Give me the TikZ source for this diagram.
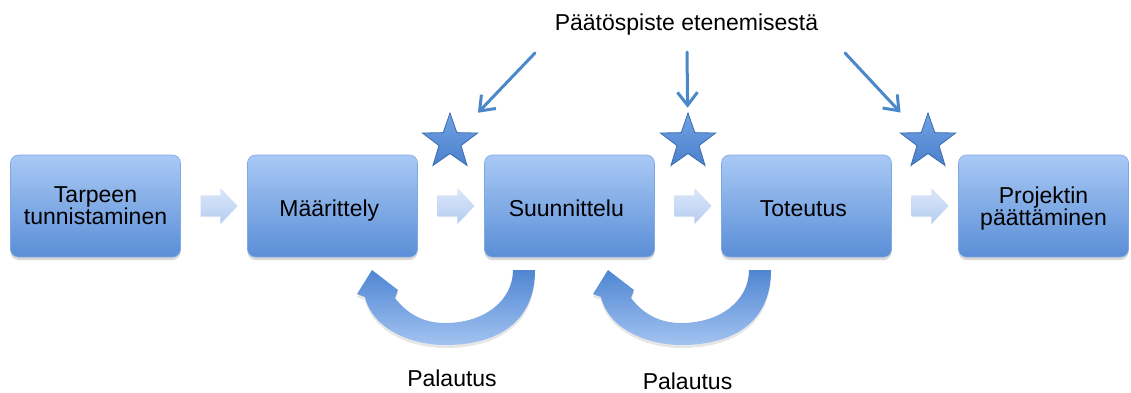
\documentclass[tikz,border=0pt]{standalone}
\usepackage{fontspec}
\setmainfont{Liberation Sans}
\usetikzlibrary{positioning,calc,shapes.geometric,shapes.arrows,shadows,arrows.meta}

\definecolor{boxtop}{HTML}{A9C9F5}
\definecolor{boxbot}{HTML}{5A8ED7}
\definecolor{boxedge}{HTML}{7FA8E2}
\definecolor{flowtop}{HTML}{DCE7F9}
\definecolor{flowbot}{HTML}{B4CCF1}
\definecolor{startop}{HTML}{70A2E3}
\definecolor{starbot}{HTML}{4B80CB}
\definecolor{staredge}{HTML}{3C6DB2}
\definecolor{pointer}{HTML}{4A88CA}
\definecolor{backtop}{HTML}{4F86D2}
\definecolor{backbot}{HTML}{A3C3F1}

\begin{document}
\begin{tikzpicture}[x = 1pt, y = -1pt,
    every node/.style = { font = \fontsize{23}{22}\selectfont },
    phase/.style = { draw = boxedge, line width = .6pt, rounded corners = 8pt,
      align = center, minimum width = 170pt, minimum height = 102pt,
      inner sep = 2pt, outer sep = 0pt, top color = boxtop, bottom color = boxbot,
      drop shadow = {shadow xshift=0pt,shadow yshift=-3pt,opacity=.3} },
    oneline/.style = { text height = 20pt, text depth = 0pt },
    flowarrow/.style = { single arrow, draw = none, inner sep = 0pt,
      text height = 10.5pt, text depth = 10.5pt, text width = 0pt,
      minimum height = 37pt, single arrow head extend = 7.5pt,
      single arrow tip angle = 93, top color = flowtop, bottom color = flowbot },
    milestone/.style = { star, star points = 5, star point ratio = 2.5,
      inner sep = 0pt, minimum size = 58pt, draw = staredge, line width = .8pt,
      top color = startop, bottom color = starbot },
    callout/.style = { draw = pointer, line width = 3pt, line cap = round,
      -{Straight Barb[length = 13pt, width = 20pt]} },
    feedback/.style = { top color = backtop, bottom color = backbot,
      drop shadow = {shadow xshift=0pt,shadow yshift=-3pt,opacity=.2} }
  ]
  \useasboundingbox (0,0) rectangle (1131,392);

  % phases
  \node [phase] (tarve) at (95.5,206) { Tarpeen \\ tunnistaminen };
  \node [phase, oneline, right = 67pt of tarve] (maar) { Määrittely };
  \node [phase, oneline, right = 67pt of maar] (suun) { Suunnittelu };
  \node [phase, oneline, right = 67pt of suun] (toto) { Toteutus };
  \node [phase, text depth = 0pt, right = 67pt of toto] (proj) { Projektin \\ päättäminen };

  % small arrows between phases
  \node [flowarrow] (f1) at ($(tarve.east)!.5!(maar.west)$) {};
  \node [flowarrow] (f2) at ($(maar.east)!.5!(suun.west)$) {};
  \node [flowarrow] (f3) at ($(suun.east)!.5!(toto.west)$) {};
  \node [flowarrow] (f4) at ($(toto.east)!.5!(proj.west)$) {};

  % decision points
  \node [milestone] (s1) at ($(maar.east)!.5!(suun.west) + (-1,-64)$) {};
  \node [milestone] (s2) at ($(suun.east)!.5!(toto.west) + (0,-64)$) {};
  \node [milestone] (s3) at ($(toto.east)!.5!(proj.west) + (3,-64)$) {};

  \node [anchor = base] (paatos) at (686.5,30.7) { Päätöspiste etenemisestä };
  \coordinate (c1) at (535,53);
  \coordinate (c2) at (687,52);
  \coordinate (c3) at (845,53);
  \draw [callout, shorten >= 27pt] (c1) -- (s1);
  \draw [callout, shorten >= 5pt] (c2) -- (s2);
  \draw [callout, shorten >= 27pt] (c3) -- (s3);

  % feedback loops
  \foreach \dx in {0,236} {
    \path [feedback, xshift = \dx] (535,270) .. controls (535,320) and (500,345) .. (445,345)
      .. controls (410,345) and (372,328) .. (365,297) -- (357,294) -- (372,270)
      -- (398,290) -- (395,298) .. controls (408,315) and (425,323) .. (445,323)
      .. controls (485,323) and (513,300) .. (513,270) -- cycle;
  }
  \node [anchor = base] (pal1) at (452,386.5) { Palautus };
  \node [anchor = base] (pal2) at (687.5,389) { Palautus };

\end{tikzpicture}
\end{document}
